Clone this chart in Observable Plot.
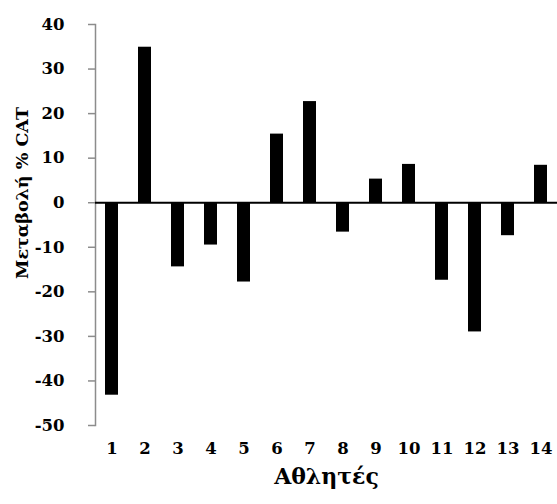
<!DOCTYPE html>
<html>
<head>
<meta charset="utf-8">
<script src="https://cdn.jsdelivr.net/npm/d3@7"></script>
<script src="https://cdn.jsdelivr.net/npm/@observablehq/plot@0.6"></script>
<style>
  html, body { margin: 0; padding: 0; background: #fff; }
  #chart svg { display: block; }
</style>
</head>
<body>
<div id="chart"></div>
<script>
const athletes = [1, 2, 3, 4, 5, 6, 7, 8, 9, 10, 11, 12, 13, 14];
const changes = [-43.2, 34.9, -14.4, -9.5, -17.8, 15.4, 22.7, -6.6, 5.3, 8.6, -17.4, -29.0, -7.4, 8.4];
const yTicks = [-50, -40, -30, -20, -10, 0, 10, 20, 30, 40];
const xTitle = "Αθλητές";
const yTitle = "Μεταβολή % CAT";

const data = athletes.map((a, i) => ({athlete: a, value: changes[i]}));
const font = "'DejaVu Serif', serif";

const chart = Plot.plot({
  width: 557,
  height: 504,
  marginLeft: 95,
  marginRight: 0,
  marginTop: 24,
  marginBottom: 79,
  style: {fontFamily: font, fontWeight: "bold", fontSize: "16px", color: "#000", background: "#fff"},
  x: {domain: athletes, paddingInner: 0.6, paddingOuter: 0.3},
  y: {domain: [-50, 40]},
  marks: [
    Plot.frame({anchor: "left", stroke: "#8c8c8c", strokeWidth: 1.5}),
    Plot.axisY({ticks: yTicks, tickFormat: d => String(d), tickSize: 7, tickPadding: 24,
      stroke: "#8c8c8c", strokeWidth: 1.5, label: null, fill: "#000", fontSize: 16.5, fontWeight: "bold"}),
    Plot.axisX({tickSize: 0, tickPadding: 17, label: null, fill: "#000", fontSize: 16.5, fontWeight: "bold"}),
    Plot.barY(data, {x: "athlete", y: "value", fill: "#000"}),
    Plot.ruleY([0], {stroke: "#000", strokeWidth: 2}),
    Plot.text([xTitle], {frameAnchor: "bottom", lineAnchor: "middle", dy: 51, text: d => d,
      fontSize: 22, fontWeight: "bold", fill: "#000"}),
    Plot.text([yTitle], {frameAnchor: "left", textAnchor: "middle", lineAnchor: "middle", dx: -73, dy: -32,
      rotate: -90, text: d => d, fontSize: 17.5, fontWeight: "bold", fill: "#000"})
  ]
});
document.getElementById("chart").appendChild(chart);
</script>
</body>
</html>
